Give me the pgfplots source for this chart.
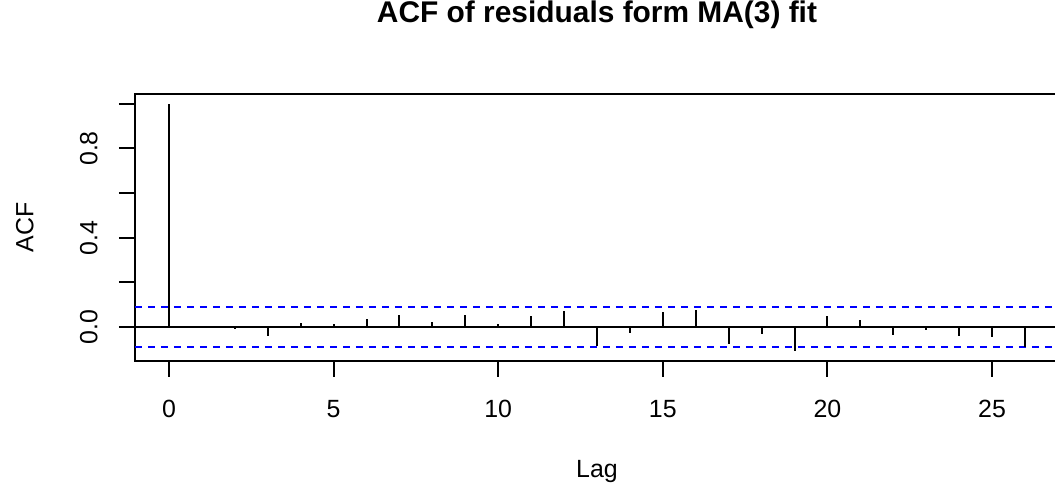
\documentclass[border=0pt]{standalone}
\usepackage{fontspec}
\setmainfont{Liberation Sans}
\usepackage{pgfplots}
\pgfplotsset{compat=1.18}
\pgfplotstableread{
lag acf
0 1
1 0.005
2 -0.008
3 -0.039
4 0.019
5 0.014
6 0.036
7 0.055
8 0.021
9 0.054
10 0.013
11 0.047
12 0.073
13 -0.087
14 -0.027
15 0.067
16 0.077
17 -0.075
18 -0.033
19 -0.107
20 0.047
21 0.030
22 -0.036
23 -0.012
24 -0.042
25 -0.045
26 -0.090
}\acfdata
\begin{document}
\begin{tikzpicture}
\begin{axis}[
  at={(0,0)}, anchor=south west,
  scale only axis, width=924.4bp, height=266.7bp,
  xmin=-1.04, xmax=27.04, ymin=-0.1513, ymax=1.0443,
  axis line style={line width=2bp, black},
  major tick style={line width=2bp, black},
  major tick length=16bp,
  tick align=outside,
  xtick pos=bottom, ytick pos=left,
  xtick={0,5,10,15,20,25},
  xticklabels={0,5,10,15,20,25},
  ytick={0,0.2,0.4,0.6,0.8,1.0},
  yticklabels={0.0,,0.4,,0.8,},
  tick label style={font=\fontsize{25}{30}\selectfont},
  xticklabel style={anchor=north, inner sep=0pt},
  xticklabel shift=23.3bp,
  yticklabel style={rotate=90, anchor=base, inner sep=0pt},
  yticklabel shift=21.5bp,
  label style={font=\fontsize{25}{30}\selectfont},
  xlabel={Lag}, ylabel={ACF},
  xlabel style={at={(axis description cs:0.5,-0.4398)}, anchor=base, inner sep=0pt},
  ylabel style={at={(axis description cs:-0.1098,0.5)}, anchor=base, inner sep=0pt},
  title={ACF of residuals form MA(3) fit},
  title style={font=\fontsize{30}{36}\selectfont\bfseries, at={(axis description cs:0.5,1.2475)}, anchor=base, inner sep=0pt},
]
\addplot[black, line width=2bp] coordinates {(-1.04,0) (27.04,0)};
\addplot[blue, line width=2bp, dash pattern=on 7bp off 6bp] coordinates {(-1.04,0.088) (27.04,0.088)};
\addplot[blue, line width=2bp, dash pattern=on 7bp off 6bp] coordinates {(-1.04,-0.088) (27.04,-0.088)};
\addplot[ycomb, black, line width=2bp, mark=none] table[x=lag, y=acf] {\acfdata};
\end{axis}
\pgfresetboundingbox
\useasboundingbox (-134.8bp,-128.3bp) rectangle (920.2bp,360.7bp);
\end{tikzpicture}
\end{document}
